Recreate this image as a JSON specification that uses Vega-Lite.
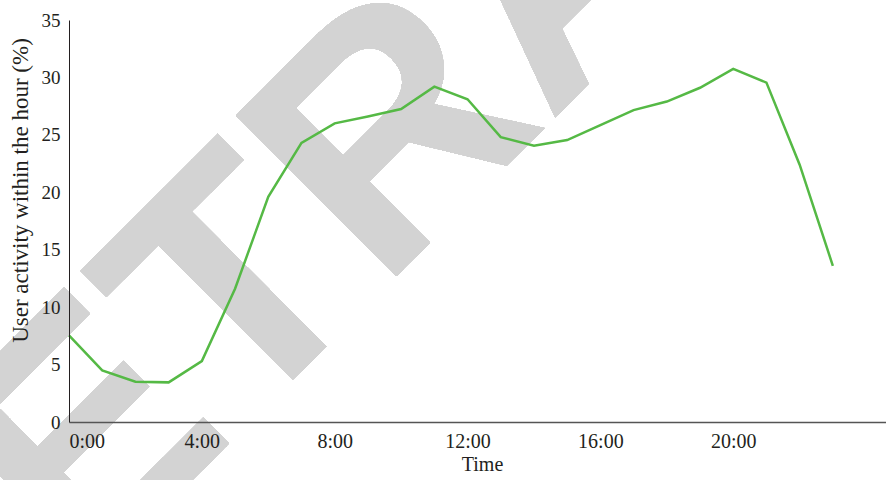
{
  "$schema": "https://vega.github.io/schema/vega-lite/v6.json",
  "autosize": "none",
  "padding": {"left": 69, "top": 20, "right": 0, "bottom": 58},
  "width": 817,
  "height": 402,
  "background": "white",
  "config": {
    "view": {"stroke": null},
    "font": "Liberation Serif"
  },
  "data": {
    "values": [
      {"hour": 0, "activity": 7.55},
      {"hour": 1, "activity": 4.5},
      {"hour": 2, "activity": 3.5},
      {"hour": 3, "activity": 3.45},
      {"hour": 4, "activity": 5.3},
      {"hour": 5, "activity": 11.6},
      {"hour": 6, "activity": 19.6},
      {"hour": 7, "activity": 24.3},
      {"hour": 8, "activity": 26.0},
      {"hour": 9, "activity": 26.6},
      {"hour": 10, "activity": 27.25},
      {"hour": 11, "activity": 29.2},
      {"hour": 12, "activity": 28.1},
      {"hour": 13, "activity": 24.8},
      {"hour": 14, "activity": 24.05},
      {"hour": 15, "activity": 24.55},
      {"hour": 16, "activity": 25.85},
      {"hour": 17, "activity": 27.15},
      {"hour": 18, "activity": 27.9},
      {"hour": 19, "activity": 29.1},
      {"hour": 20, "activity": 30.75},
      {"hour": 21, "activity": 29.55},
      {"hour": 22, "activity": 22.4},
      {"hour": 23, "activity": 13.6}
    ]
  },
  "layer": [
    {
      "mark": {"type": "text", "text": "RETRACTED", "font": "Liberation Sans", "fontWeight": "bold", "fontSize": 330, "angle": -45, "align": "center", "baseline": "alphabetic", "color": "#d3d3d3"},
      "encoding": {
        "x": {"datum": 17.0, "type": "quantitative", "scale": {"domain": [0, 24.6], "nice": false, "zero": false}},
        "y": {"datum": 33.35, "type": "quantitative", "scale": {"domain": [0, 35], "nice": false}}
      }
    },
    {
      "mark": {"type": "line", "color": "#55b945", "strokeWidth": 2.5},
      "encoding": {
        "x": {
          "field": "hour",
          "type": "quantitative",
          "scale": {"domain": [0, 24.6], "nice": false, "zero": false},
          "axis": {
            "title": "Time",
            "zindex": 1,
            "values": [0, 4, 8, 12, 16, 20],
            "labelExpr": "datum.value + ':00'",
            "ticks": false,
            "grid": false,
            "domainColor": "#555555",
            "domainWidth": 1.5,
            "labelFont": "Liberation Serif",
            "labelFontSize": 20,
            "labelColor": "#231f20",
            "labelPadding": 9,
            "titleFont": "Liberation Serif",
            "titleFontSize": 20,
            "titleFontWeight": "normal",
            "titleColor": "#231f20",
            "titleX": 413,
            "titleY": 52,
            "titleBaseline": "bottom"
          }
        },
        "y": {
          "field": "activity",
          "type": "quantitative",
          "scale": {"domain": [0, 35], "nice": false},
          "axis": {
            "title": "User activity within the hour (%)",
            "zindex": 1,
            "values": [0, 5, 10, 15, 20, 25, 30, 35],
            "ticks": false,
            "grid": false,
            "domainColor": "#231f20",
            "domainWidth": 1,
            "labelFont": "Liberation Serif",
            "labelFontSize": 19,
            "labelColor": "#231f20",
            "labelPadding": 9,
            "titleFont": "Liberation Serif",
            "titleFontSize": 23,
            "titleFontWeight": "normal",
            "titleColor": "#231f20",
            "titleX": -49,
            "titleY": 170,
            "titleAlign": "center",
            "titleBaseline": "middle",
            "titleAngle": -90
          }
        }
      }
    }
  ]
}
